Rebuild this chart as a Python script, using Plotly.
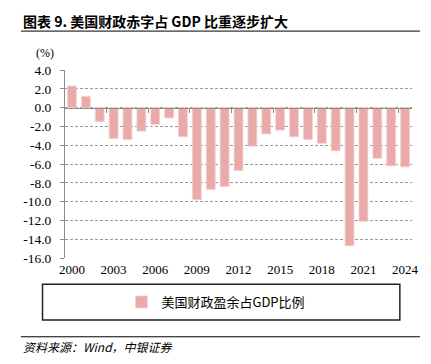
import plotly.graph_objects as go

years = list(range(2000, 2025))
surplus_pct_gdp = [2.3, 1.2, -1.5, -3.3, -3.4, -2.5, -1.8, -1.1, -3.1, -9.8,
                   -8.7, -8.4, -6.7, -4.1, -2.8, -2.4, -3.1, -3.4, -3.8, -4.6,
                   -14.7, -12.1, -5.4, -6.2, -6.3]
series_name = "美国财政盈余占GDP比例"
y_tick_vals = [4, 2, 0, -2, -4, -6, -8, -10, -12, -14, -16]
x_tick_years = [2000, 2003, 2006, 2009, 2012, 2015, 2018, 2021, 2024]
title_text = "图表 9. 美国财政赤字占 GDP 比重逐步扩大"
source_text = "资料来源：Wind，中银证券"
unit_text = "(%)"

serif = "Liberation Serif"
cjk = "Noto Sans CJK SC"
x_range = [years[0] - 0.5, years[-1] + 0.5]
y_range = [min(y_tick_vals), max(y_tick_vals)]
zero_pos = (0 - y_range[0]) / (y_range[1] - y_range[0])
boundary_ticks = [y + 0.5 for y in years[2:-1:3]]

# page body has an 8px default margin; figure is sized so it fits the window
PAGE_OFFSET = 8

fig = go.Figure()
fig.add_trace(go.Bar(
    x=years, y=surplus_pct_gdp, name=series_name,
    marker=dict(color="#EAAAAA", line=dict(color="#F4D2D2", width=0.8)),
    showlegend=True,
))
fig.add_trace(go.Scatter(
    x=years, y=surplus_pct_gdp, xaxis="x2", mode="markers",
    marker=dict(opacity=0), showlegend=False, hoverinfo="skip",
))

fig.update_layout(
    width=431 - PAGE_OFFSET, height=364 - PAGE_OFFSET,
    margin=dict(l=65 - PAGE_OFFSET, r=19, t=70 - PAGE_OFFSET, b=106),
    paper_bgcolor="white", plot_bgcolor="white",
    bargap=0.36,
    font=dict(family=serif, size=13, color="black"),
    xaxis=dict(
        range=x_range, tickmode="array", tickvals=x_tick_years,
        ticktext=[str(v) for v in x_tick_years],
        showgrid=False, showline=False, zeroline=False, ticks="",
        ticklabelstandoff=2,
        tickfont=dict(family=serif, size=13, color="black"),
    ),
    xaxis2=dict(
        range=x_range, overlaying="x", anchor="free", position=zero_pos,
        side="bottom", showline=True, linecolor="#8C8C8C", linewidth=1,
        ticks="outside", ticklen=4, tickcolor="#8C8C8C", tickwidth=1,
        tickmode="array", tickvals=boundary_ticks, showticklabels=False,
        showgrid=False, zeroline=False,
    ),
    yaxis=dict(
        range=y_range, tickmode="array", tickvals=y_tick_vals,
        ticktext=[f"{v:.1f}" for v in y_tick_vals],
        showgrid=True, gridcolor="#9A9A9A", griddash="3px,2px", gridwidth=1,
        zeroline=False, showline=True, linecolor="#8C8C8C", linewidth=1,
        ticks="outside", ticklen=4, tickcolor="#8C8C8C",
        ticklabelstandoff=6,
        tickfont=dict(family=serif, size=13.5, color="black"),
    ),
    legend=dict(
        orientation="h", x=0.435, y=-0.234, xanchor="center", yanchor="middle",
        font=dict(family=cjk, size=13, color="black"),
        bgcolor="rgba(0,0,0,0)", borderwidth=0,
    ),
    shapes=[
        dict(type="line", xref="paper", yref="paper", x0=-0.127, x1=1.023,
             y0=1.207, y1=1.207, line=dict(color="black", width=1)),
        dict(type="line", xref="paper", yref="paper", x0=-0.127, x1=1.023,
             y0=-0.419, y1=-0.419, line=dict(color="black", width=1)),
        dict(type="rect", xref="paper", yref="paper", x0=-0.0648, x1=0.965,
             y0=-0.140, y1=-0.330, line=dict(color="#222222", width=1.5)),
    ],
    annotations=[
        dict(text=f"<b>{title_text}</b>", xref="paper", yref="paper",
             x=-0.127, y=1.261, xanchor="left", yanchor="middle",
             showarrow=False, font=dict(family=cjk, size=14, color="black")),
        dict(text=unit_text, xref="paper", yref="paper",
             x=-0.09, y=1.09, xanchor="left", yanchor="middle",
             showarrow=False, font=dict(family=serif, size=12, color="black")),
        dict(text=f"<i>{source_text}</i>", xref="paper", yref="paper",
             x=-0.127, y=-0.47, xanchor="left", yanchor="middle",
             showarrow=False, font=dict(family=cjk, size=12, color="black")),
    ],
)

fig.write_html("out.html")
